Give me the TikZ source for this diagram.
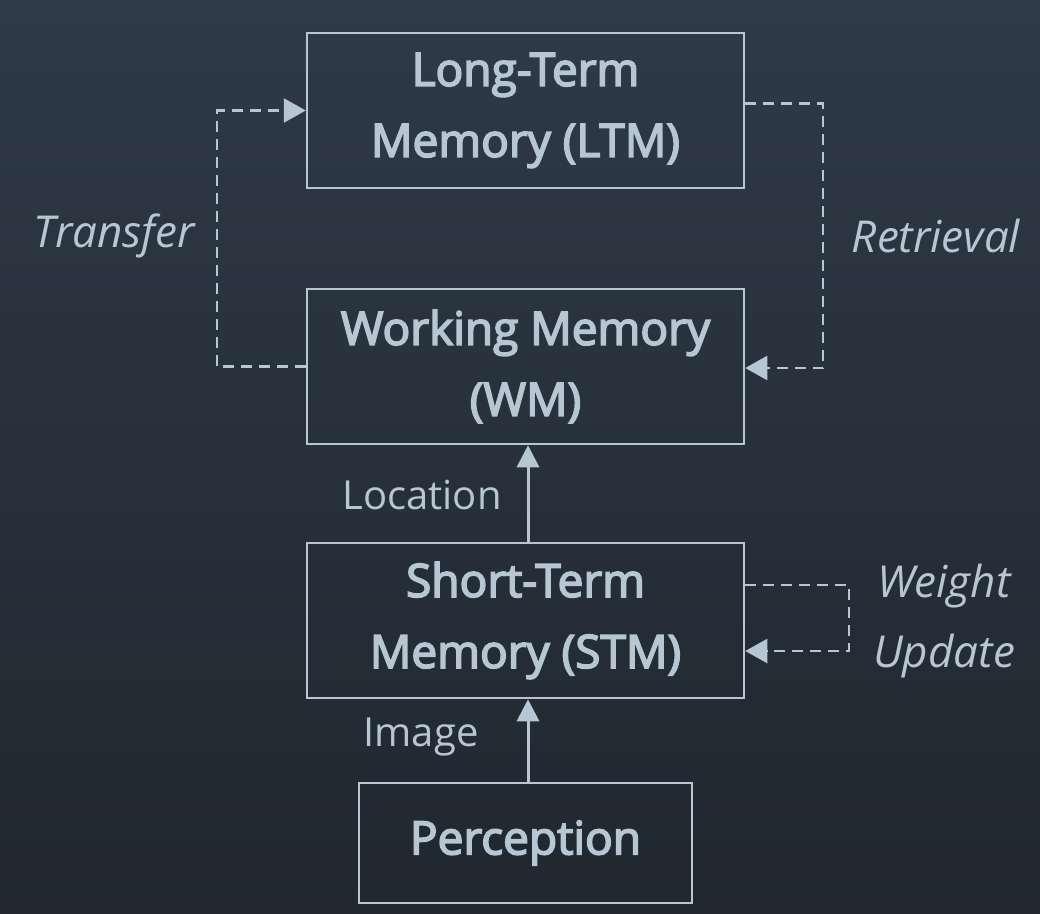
\documentclass[tikz,border=0pt]{standalone}
\usepackage{fontspec}
\setmainfont{Open Sans}
\newfontfamily\boxfont[FakeBold=3.5]{Open Sans}
\usetikzlibrary{arrows.meta}
\definecolor{bgtop}{HTML}{2E3A47}
\definecolor{bgbot}{HTML}{20272F}
\definecolor{ink}{HTML}{B7C6D3}
\begin{document}
\begin{tikzpicture}[x=1pt,y=-1pt]
\tikzset{memory/.style={draw=ink,line width=2.5pt,minimum width=437pt,minimum height=155pt,align=center,text=ink,font=\boxfont\fontsize{46}{71}\selectfont}}
\tikzset{flow/.style={draw=ink,line width=3pt,-{Triangle[length=22pt,width=22pt]}}}
\tikzset{loop/.style={draw=ink,line width=2.4pt,dash pattern=on 11pt off 7pt,-{Triangle[length=22pt,width=24pt]}}}
\tikzset{tag/.style={text=ink,font=\fontsize{40}{46}\selectfont}}
\tikzset{itag/.style={text=ink,font=\itshape\fontsize{44}{70}\selectfont,align=center}}
\fill[top color=bgtop,bottom color=bgbot] (0,0) rectangle (1040,913);
\node[memory] (ltm) at (525.5,110.5) {Long-Term\\Memory (LTM)};
\node[memory] (wm) at (525.5,366.5) {Working Memory\\(WM)};
\node[memory] (stm) at (525.5,620.5) {Short-Term\\Memory (STM)};
\node[memory,minimum width=333pt,minimum height=120pt] (perc) at (525.5,843) {Perception};
\draw[flow] ([xshift=2.5pt]perc.north) -- ([xshift=2.5pt]stm.south);
\draw[flow] ([xshift=2.5pt]stm.north) -- ([xshift=2.5pt]wm.south);
\draw[loop] (wm.west) -- ++(-89,0) |- (ltm.west);
\draw[loop] ([yshift=7pt]ltm.east) -- ++(78,0) |- ([yshift=-1.5pt]wm.east);
\draw[loop] ([yshift=35.5pt]stm.east) -- ++(104,0) |- ([yshift=-30.5pt]stm.east);
\node[tag] (location) at (422,495) {Location};
\node[tag] (image) at (421,737) {Image};
\node[itag] (transfer) at (114,236) {Transfer};
\node[itag] (retrieval) at (936,236) {Retrieval};
\node[itag] (weight) at (944,621) {Weight\\Update};
\end{tikzpicture}
\end{document}
